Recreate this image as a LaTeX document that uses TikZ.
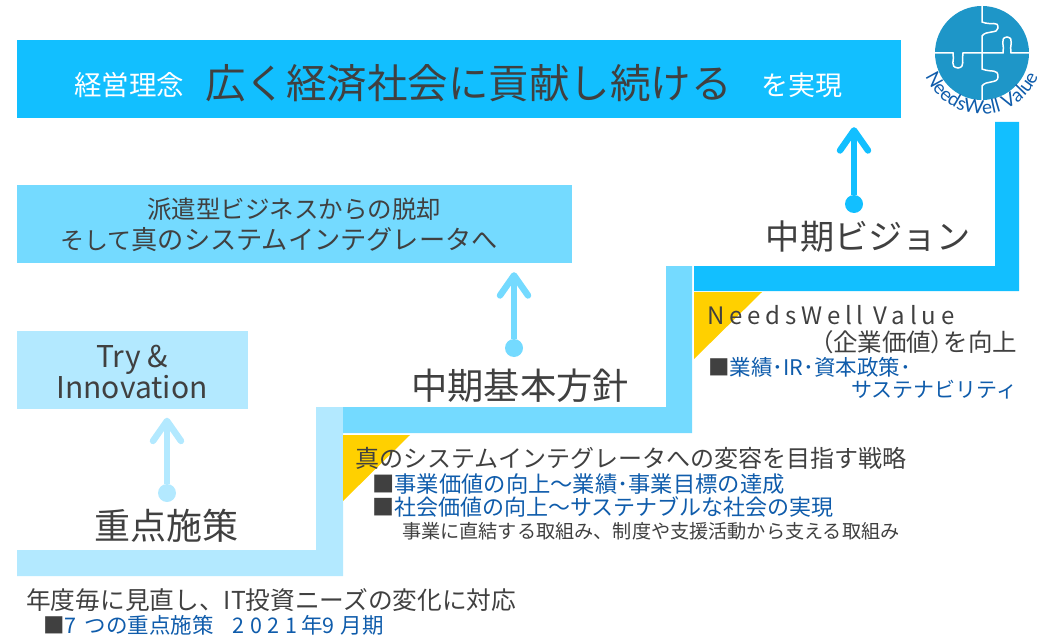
\documentclass[tikz,border=0pt]{standalone}
\usepackage{fontspec}
\setmainfont{Noto Sans CJK JP}
\newfontfamily\latinfont{Lato}
\usetikzlibrary{arrows.meta,decorations.text}
\definecolor{barA}{HTML}{12BFFF}
\definecolor{barB}{HTML}{74DAFF}
\definecolor{barC}{HTML}{B3E9FF}
\definecolor{inkA}{HTML}{404040}
\definecolor{inkB}{HTML}{0F5CAB}
\definecolor{wedge}{HTML}{FFD000}
\definecolor{logoblue}{HTML}{1E96C8}
\newcommand{\sz}[1]{\fontsize{#1}{#1}\selectfont}
\newcommand{\ls}[2]{{\addfontfeature{LetterSpace=#1}#2}}
\newcommand{\pl}[1]{{\addfontfeature{RawFeature=+palt}#1}}
\tikzset{
  goalbox/.style={minimum height=78pt,inner sep=0pt},
  inktext/.style={text=inkA,inner sep=0pt},
  maintext/.style={inktext,anchor=west,font=\sz{24}},
  subtext/.style={text=inkB,inner sep=0pt,anchor=west,font=\sz{22}},
  risedot/.style={circle,inner sep=0pt,minimum size=18pt},
  risearrow/.style={line width=6.5pt,-{Straight Barb[round,length=20pt,width=28pt,line width=6.5pt]},shorten >=9pt},
  piece/.style={white,line width=1.5pt},
}
\newcommand{\sq}{\textcolor{inkA}{■}}
\begin{document}
\begin{tikzpicture}[x=1pt,y=-1pt]
    \useasboundingbox (0,0) rectangle (1040,644);

    % Goal boxes
    \node[goalbox,fill=barA,minimum width=884pt] (goalC) at (459,79) {};
    \node[goalbox,fill=barB,minimum width=555pt] (goalB) at (294.5,224) {};
    \node[goalbox,fill=barC,minimum width=231pt] (goalA) at (132.5,369.5) {};

    % Top box text
    \node[text=white,inner sep=0pt,font=\sz{27.5}] (riseL) at (129,85) {経営理念};
    \node[inktext,font=\sz{40.5}] (riseM) at (468.5,83) {広く経済社会に貢献し続ける};
    \node[text=white,inner sep=0pt,font=\sz{27}] (riseR) at (802,85) {を実現};

    % Middle and lower box text
    \node[inktext,font=\sz{24.5}] (outA) at (294,209) {派遣型ビジネスからの脱却};
    \node[inktext,font=\sz{24}] (outB) at (279,240) {そして{\sz{26.2}真のシステムインテグレータへ}};
    \node[inktext,font=\sz{30}] (tryA) at (132,360) {Try \&};
    \node[inktext,font=\sz{30}] (tryB) at (132,387) {Innovation};

    % Steps
    \fill[barC] (17,550) -- (316,550) -- (316,407) -- (343,407) -- (343,576) -- (17,576) -- cycle;
    \fill[barB] (343,407) -- (666,407) -- (666,266) -- (692,266) -- (692,433) -- (343,433) -- cycle;
    \fill[barA] (694,266) -- (995,266) -- (995,122) -- (1019,122) -- (1019,291) -- (694,291) -- cycle;

    % Corner wedges
    \fill[wedge] (343,435) -- (410,435) -- (343,501) -- cycle;
    \fill[wedge] (694,292) -- (762,292) -- (694,359) -- cycle;

    % Step titles
    \node[inktext,font=\sz{36}] (stepA) at (166,526) {重点施策};
    \node[inktext,font=\sz{36.3}] (stepB) at (520,386) {中期基本方針};
    \node[inktext,font=\sz{34.2}] (stepC) at (868.5,237) {中期ビジョン};

    % Arrows
    \node[risedot,fill=barC] (dotA) at (167,493) {};
    \node[risedot,fill=barB] (dotB) at (514,348) {};
    \node[risedot,fill=barA] (dotC) at (854,204) {};
    \draw[risearrow,barC] (dotA) -- (goalA.south -| dotA);
    \draw[risearrow,barB] (dotB) -- (goalB.south -| dotB);
    \draw[risearrow,barA] (dotC) -- (goalC.south -| dotC);

    % Step C text
    \node[maintext] (valA) at (707,315) {\ls{20}{NeedsWell Value}};
    \node[maintext,font=\sz{24.5}] (valB) at (821,342) {\pl{（}企業価値\pl{）}を向上};
    \node[subtext,font=\sz{21.5}] (valC) at (708,367) {\sq 業績･IR･資本政策･};
    \node[subtext,font=\sz{21}] (valD) at (851,390) {サステナビリティ};

    % Step B text
    \node[maintext] (stratA) at (355,458) {真のシステムインテグレータへの変容を目指す戦略};
    \node[subtext,font=\sz{22.3}] (stratB) at (372,484) {\sq 事業価値の向上～業績･事業目標の達成};
    \node[subtext] (stratC) at (372,507) {\sq 社会価値の向上～サステナブルな社会の実現};
    \node[inktext,anchor=west,font=\sz{19.15}] (stratD) at (402,531) {事業に直結する取組み、制度や支援活動から支える取組み};

    % Step A text
    \node[maintext,font=\sz{24.7}] (yearA) at (26,600) {年度毎に見直し、IT投資ニーズの変化に対応};
    \node[subtext,font=\sz{21.5}] (yearB) at (43,625) {\sq 7\hspace{8pt}つの重点施策\hspace{19pt}\ls{26}{2021}\hspace{4pt}年9\hspace{6pt}月期};

    % Logo
    \fill[logoblue] (982,53) circle (47);
    \draw[piece] (982,6) -- (982,22) .. controls (992,26) and (998,20) .. (998,28)
        .. controls (998,34) and (986,30) .. (982,36) -- (982,69)
        .. controls (992,73) and (998,68) .. (998,77) .. controls (998,84) and (986,80) .. (982,86) -- (982,100);
    \draw[piece] (935,53) -- (953,53) .. controls (955,60) and (949,67) .. (958,68)
        .. controls (966,67) and (961,60) .. (963,53) -- (1003,53)
        .. controls (1005,46) and (999,38) .. (1007,37) .. controls (1015,38) and (1009,46) .. (1011,53) -- (1029,53);
    \path[decorate,decoration={text along path,text align={left indent=0pt},
        text={|\sz{19}\latinfont\color{inkB}|NeedsWell Value}}]
        (925.4,75.9) arc (158:0:61);
\end{tikzpicture}
\end{document}
